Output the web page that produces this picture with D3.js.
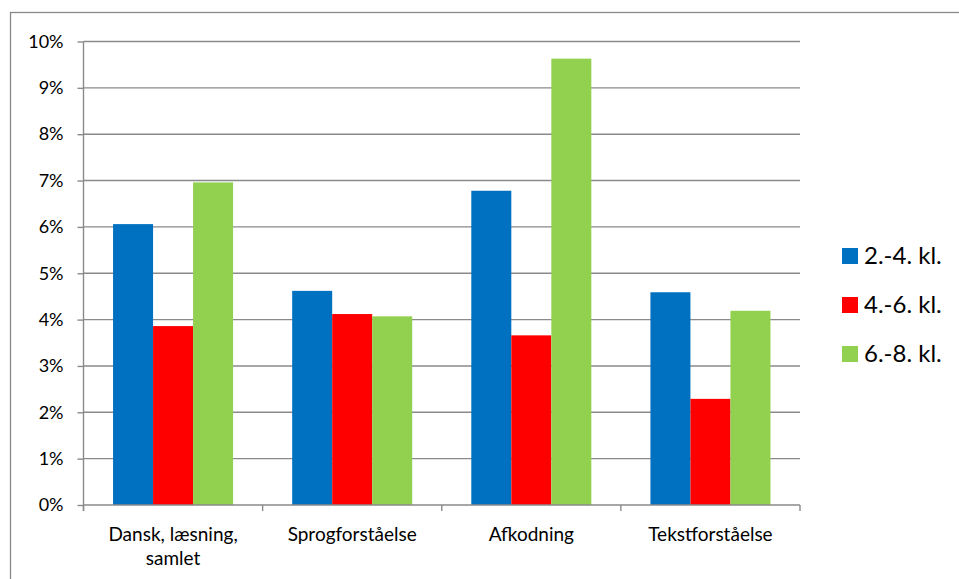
<!DOCTYPE html>
<html>
<head>
<meta charset="utf-8">
<script src="https://cdn.jsdelivr.net/npm/d3@7"></script>
<style>
  html, body { margin: 0; padding: 0; background: #fff; }
  svg { display: block; font-family: Lato, "Liberation Sans", sans-serif; }
</style>
</head>
<body>
<svg id="chart" width="959" height="579"></svg>
<script>
const categories = ["Dansk, læsning, samlet", "Sprogforståelse", "Afkodning", "Tekstforståelse"];
const categoryLines = [["Dansk, læsning,", "samlet"], ["Sprogforståelse"], ["Afkodning"], ["Tekstforståelse"]];
const seriesNames = ["2.-4. kl.", "4.-6. kl.", "6.-8. kl."];
const seriesColors = ["#0070C0", "#FF0000", "#92D050"];
const values_2_4 = [6.06, 4.62, 6.78, 4.59];
const values_4_6 = [3.86, 4.12, 3.66, 2.29];
const values_6_8 = [6.96, 4.07, 9.63, 4.19];
const seriesValues = [values_2_4, values_4_6, values_6_8];
const yTicks = [0, 1, 2, 3, 4, 5, 6, 7, 8, 9, 10];

const svg = d3.select("#chart");
const margin = { left: 83.5, right: 800, top: 41.5, bottom: 505 };

// outer frame (clipped at right/bottom in the reference)
svg.append("rect")
  .attr("x", 10.5).attr("y", 12.5)
  .attr("width", 1000).attr("height", 1000)
  .attr("fill", "none").attr("stroke", "#898989").attr("stroke-width", 1.3);

const x0 = d3.scaleBand().domain(categories).range([margin.left, margin.right])
  .paddingInner(0.33).paddingOuter(0.165);
const x1 = d3.scaleBand().domain(seriesNames).range([0, x0.bandwidth()]).padding(0);
const y = d3.scaleLinear().domain([0, 10]).range([margin.bottom, margin.top]);

// gridlines
svg.append("g").selectAll("line").data(yTicks.filter(d => d > 0)).join("line")
  .attr("x1", margin.left).attr("x2", margin.right)
  .attr("y1", d => y(d)).attr("y2", d => y(d))
  .attr("stroke", "#8a8a8a").attr("stroke-width", 1.4);

// bars
const groups = svg.append("g").selectAll("g").data(categories).join("g")
  .attr("transform", d => `translate(${x0(d)},0)`);
groups.selectAll("rect")
  .data((c, i) => seriesNames.map((s, j) => ({ s, j, v: seriesValues[j][i] })))
  .join("rect")
  .attr("x", d => x1(d.s))
  .attr("width", x1.bandwidth())
  .attr("y", d => y(d.v))
  .attr("height", d => y(0) - y(d.v))
  .attr("fill", d => seriesColors[d.j]);

// y axis
const yAxis = d3.axisLeft(y).tickValues(yTicks).tickSize(6).tickPadding(14)
  .tickFormat(d => d + "%");
const gy = svg.append("g").attr("transform", `translate(${margin.left},0)`).call(yAxis);
gy.select(".domain").attr("stroke", "#8a8a8a").attr("stroke-width", 1.4)
  .attr("d", `M0,${margin.top}V${margin.bottom + 6}`);
gy.selectAll(".tick line").attr("stroke", "#8a8a8a").attr("stroke-width", 1.4);
gy.selectAll(".tick text").attr("font-family", "Lato").attr("font-size", 18).attr("fill", "#000");

// x axis
const gx = svg.append("g").attr("transform", `translate(0,${margin.bottom})`);
gx.append("line").attr("x1", margin.left).attr("x2", margin.right)
  .attr("stroke", "#8a8a8a").attr("stroke-width", 1.4);
const step = x0.step();
const boundaries = categories.map(c => x0(c) - x0.paddingOuter() * step).concat([margin.right]);
gx.selectAll("line.tk").data(boundaries).join("line").attr("class", "tk")
  .attr("x1", d => d).attr("x2", d => d).attr("y1", 0).attr("y2", 6)
  .attr("stroke", "#8a8a8a").attr("stroke-width", 1.4);
const labels = gx.selectAll("text.cat").data(categories).join("text").attr("class", "cat")
  .attr("x", d => x0(d) + x0.bandwidth() / 2)
  .attr("text-anchor", "middle").attr("font-size", 19).attr("fill", "#000");
labels.each(function(d, i) {
  const t = d3.select(this);
  categoryLines[i].forEach((ln, k) => {
    t.append("tspan").attr("x", x0(d) + x0.bandwidth() / 2).attr("y", 36 + k * 24).text(ln);
  });
});

// legend
const legend = svg.append("g").selectAll("g").data(seriesNames).join("g")
  .attr("transform", (d, i) => `translate(842,${256 + i * 49})`);
legend.append("rect").attr("x", 0).attr("y", -8).attr("width", 16).attr("height", 16)
  .attr("fill", (d, i) => seriesColors[i]);
legend.append("text").attr("x", 22).attr("y", 0).attr("dy", "0.35em")
  .attr("font-size", 24).attr("fill", "#000").text(d => d);
</script>
</body>
</html>
